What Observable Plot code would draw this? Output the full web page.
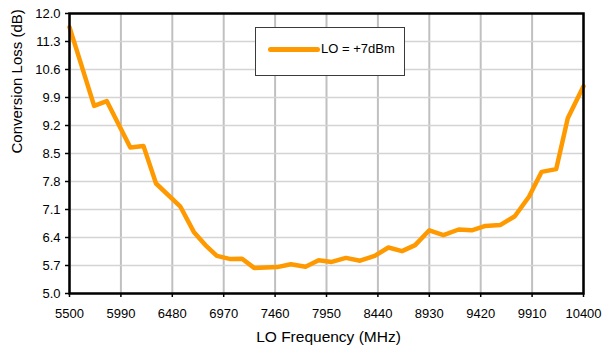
<!DOCTYPE html>
<html>
<head>
<meta charset="utf-8">
<script src="https://cdn.jsdelivr.net/npm/d3@7"></script>
<script src="https://cdn.jsdelivr.net/npm/@observablehq/plot@0.6"></script>
<style>
  html, body { margin: 0; padding: 0; background: #fff; }
  #chart { position: relative; width: 603px; height: 353px; font-family: "Liberation Sans", Arial, sans-serif; }
  #legend {
    position: absolute; left: 255px; top: 27px; width: 150px; height: 49px;
    border: 1px solid #3a3a3a; background: #fff; box-sizing: border-box;
  }
  #legend .swatch {
    position: absolute; left: 12px; top: 19px; width: 52px; height: 5px;
    background: #ff9900; border-radius: 2.5px;
  }
  #legend .label {
    position: absolute; left: 65px; top: 13px; font-size: 13px; line-height: 16px; color: #000;
  }
</style>
</head>
<body>
<div id="chart"></div>
<script>
// LO frequency sweep (MHz) and measured conversion loss (dB)
const freqMHz = [5500, 5735, 5855, 6080, 6205, 6325, 6555, 6685, 6795, 6905, 7035, 7145,
  7260, 7480, 7610, 7750, 7875, 8000, 8135, 8270, 8410, 8540, 8670, 8795, 8930, 9065,
  9210, 9335, 9465, 9605, 9745, 9880, 10000, 10140, 10250, 10400];
const lossDB = [11.66, 9.69, 9.81, 8.65, 8.69, 7.75, 7.18, 6.54, 6.21, 5.94, 5.86, 5.87,
  5.64, 5.66, 5.73, 5.67, 5.83, 5.79, 5.89, 5.82, 5.94, 6.15, 6.06, 6.21, 6.58, 6.46,
  6.60, 6.58, 6.69, 6.71, 6.93, 7.42, 8.04, 8.11, 9.38, 10.18];

const xTicks = [5500, 5990, 6480, 6970, 7460, 7950, 8440, 8930, 9420, 9910, 10400];
const yTicks = [5.0, 5.7, 6.4, 7.1, 7.8, 8.5, 9.2, 9.9, 10.6, 11.3, 12.0];

const seriesName = "LO = +7dBm";
const xTitle = "LO Frequency (MHz)";
const yTitle = "Conversion Loss (dB)";

const rows = freqMHz.map((f, i) => ({freq: f, loss: lossDB[i]}));

const svg = Plot.plot({
  width: 603,
  height: 353,
  marginLeft: 69,
  marginRight: 20,
  marginTop: 13,
  marginBottom: 60,
  style: {fontFamily: "'Liberation Sans', Arial, sans-serif", background: "#fff", color: "#000"},
  x: {domain: [5500, 10400]},
  y: {domain: [5, 12]},
  marks: [
    Plot.gridX(xTicks, {stroke: "#c0c0c0", strokeOpacity: 1, strokeWidth: 2}),
    Plot.gridY(yTicks, {stroke: "#d4d4d4", strokeOpacity: 1, strokeWidth: 1.5}),
    Plot.line(rows, {x: "freq", y: "loss", stroke: "#ff9900", strokeWidth: 4.5,
      strokeLinejoin: "round", strokeLinecap: "round"}),
    Plot.frame({stroke: "#000", strokeWidth: 2.5}),
    Plot.axisX(xTicks, {tickFormat: d => String(d), tickSize: 4, tickPadding: 11,
      fontSize: 13, label: null, strokeWidth: 1.5}),
    Plot.axisY(yTicks, {tickFormat: d => d.toFixed(1), tickSize: 4, tickPadding: 5,
      fontSize: 13, label: null, strokeWidth: 1.5}),
    Plot.text([xTitle], {text: d => d, frameAnchor: "bottom", dx: 2, dy: 48, fontSize: 15.5}),
    Plot.text([yTitle], {text: d => d, frameAnchor: "left", dx: -52, rotate: -90, fontSize: 15})
  ]
});

const chart = document.getElementById("chart");
chart.appendChild(svg);

// Series key drawn over the plot area
const legend = document.createElement("div");
legend.id = "legend";
legend.innerHTML = `<div class="swatch"></div><div class="label"></div>`;
legend.querySelector(".label").textContent = seriesName;
chart.appendChild(legend);
</script>
</body>
</html>
